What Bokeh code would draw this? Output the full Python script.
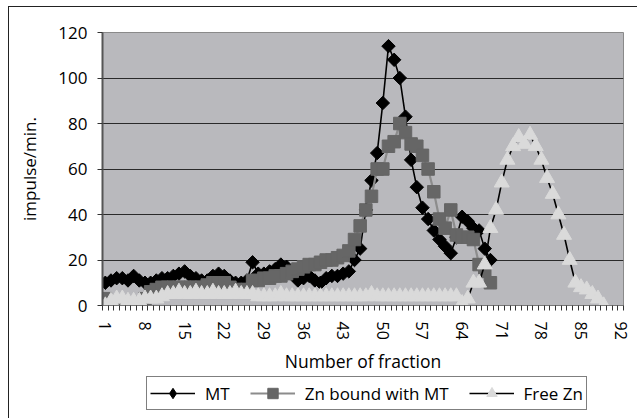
import numpy as np
from bokeh.plotting import figure
from bokeh.models import Range1d, FixedTicker, Legend, LegendItem, Spacer
from bokeh.layouts import column, row
from bokeh.embed import file_html
from bokeh.resources import INLINE

# ---- data -----------------------------------------------------------
fractions = list(range(1, 93))
x_tick_labels = [1, 8, 15, 22, 29, 36, 43, 50, 57, 64, 71, 78, 85, 92]
y_ticks = [0, 20, 40, 60, 80, 100, 120]

mt = [10, 11, 12, 12, 11, 13, 11, 10, 10, 11,
      12, 12, 13, 14, 15, 13, 12, 11, 11, 13,
      14, 13, 11, 10, 10, 11, 19, 14, 14, 15,
      16, 18, 17, 14, 11, 12, 13, 11, 10, 12,
      13, 13, 14, 15, 20, 25, 42, 55, 67, 89,
      114, 108, 100, 83, 64, 52, 43, 38, 33, 29,
      26, 23, 30, 39, 37, 34, 33, 25, 20]

zn_bound = [3, 1, 0, 0, 0, 0, 1, 3, 6, 7,
            8, 8, 8, 8, 8, 8, 8, 8, 9, 10,
            10, 10, 8, 7, 7, 7, 11, 11, 12, 12,
            13, 13, 14, 15, 16, 17, 18, 18, 19, 20,
            20, 21, 22, 24, 29, 35, 42, 48, 60, 60,
            70, 72, 80, 76, 71, 70, 66, 60, 50, 38,
            34, 42, 31, 30, 30, 29, 18, 15, 10]

free_zn = [0, 2, 3, 3, 2, 2, 2, 3, 3, 3,
           4, 5, 5, 6, 5, 5, 6, 5, 5, 6,
           5, 5, 5, 6, 5, 5, 5, 4, 4, 4,
           4, 5, 4, 4, 4, 4, 4, 4, 4, 4,
           4, 4, 4, 4, 4, 4, 4, 5, 4, 4,
           4, 4, 4, 4, 4, 4, 4, 4, 4, 4,
           4, 4, 4, 1, 3, 10, 10, 18, 34, 42,
           54, 64, 70, 74, 71, 75, 70, 64, 56, 49,
           40, 31, 20, 10, 8, 7, 5, 3, 0]

series = [("MT", mt), ("Zn bound with MT", zn_bound), ("Free Zn", free_zn)]

# ---- styles -----------------------------------------------------------
FONT = "Open Sans"
STYLES = {
    "MT": dict(line=dict(line_color="black", line_width=1.6),
               mark=dict(marker="square", angle=np.pi / 4, size=9.5,
                         fill_color="black", line_color="black")),
    "Zn bound with MT": dict(line=dict(line_color="#8c8c8c", line_width=2.2),
                             mark=dict(marker="square", size=12.5,
                                       fill_color="#666666",
                                       line_color="#666666")),
    "Free Zn": dict(line=dict(line_color="black", line_width=1.6),
                    mark=dict(marker="triangle", size=15,
                              fill_color="#dadada", line_color="#dadada")),
}
# the legend does not rotate markers, so its MT swatch uses a diamond
LEGEND_MARK = {"MT": dict(marker="diamond", size=12,
                          fill_color="black", line_color="black")}

# ---- main chart -------------------------------------------------------
p = figure(width=628, height=368,
           x_range=Range1d(0.5, 92.5), y_range=Range1d(0, 120),
           output_backend="svg", toolbar_location=None,
           min_border_left=93, min_border_right=14,
           min_border_top=25, min_border_bottom=66)

p.background_fill_color = "#b9b9bd"
p.border_fill_color = "white"
p.outline_line_color = "#8a8a8a"
p.outline_line_width = 1

p.xgrid.grid_line_color = None
p.ygrid.grid_line_color = "#2a2a2a"
p.ygrid.grid_line_width = 1

ya = p.yaxis[0]
ya.ticker = FixedTicker(ticks=y_ticks)
ya.axis_line_color = "#555555"
ya.axis_line_width = 2
ya.major_tick_out = 5
ya.major_tick_in = 0
ya.major_tick_line_color = "#333333"
ya.minor_tick_line_color = None
ya.major_label_text_font = FONT
ya.major_label_text_font_size = "17px"
ya.major_label_text_color = "black"
ya.major_label_standoff = 10
ya.axis_label = "impulse/min."
ya.axis_label_text_font = FONT
ya.axis_label_text_font_size = "17px"
ya.axis_label_text_font_style = "normal"
ya.axis_label_text_color = "black"
ya.axis_label_standoff = 14

xa = p.xaxis[0]
boundaries = [f - 0.5 for f in fractions] + [fractions[-1] + 0.5]
xa.ticker = FixedTicker(ticks=x_tick_labels, minor_ticks=boundaries)
xa.axis_line_color = "#777777"
xa.axis_line_width = 1
xa.major_tick_out = 0
xa.major_tick_in = 0
xa.minor_tick_out = 5
xa.minor_tick_in = 0
xa.minor_tick_line_color = "#333333"
xa.major_label_orientation = "vertical"
xa.major_label_text_font = FONT
xa.major_label_text_font_size = "16px"
xa.major_label_text_color = "black"
xa.major_label_standoff = 11
xa.axis_label = "Number of fraction"
xa.axis_label_text_font = FONT
xa.axis_label_text_font_size = "17.5px"
xa.axis_label_text_font_style = "normal"
xa.axis_label_text_color = "black"
xa.axis_label_standoff = 6

for name, vals in series:
    xs = fractions[:len(vals)]
    p.line(xs, vals, **STYLES[name]["line"])
    p.scatter(xs, vals, **STYLES[name]["mark"])

# ---- legend strip: same series, plotted out of view, only the legend shows
q = figure(width=628, height=43, x_axis_type=None, y_axis_type=None,
           x_range=Range1d(-20, -10), y_range=Range1d(-20, -10),
           output_backend="svg", toolbar_location=None,
           min_border=0, min_border_left=0, min_border_right=0,
           min_border_top=0, min_border_bottom=0)
q.outline_line_color = None
q.background_fill_color = "white"
q.border_fill_color = "white"
q.xgrid.grid_line_color = None
q.ygrid.grid_line_color = None
items = []
for name, vals in series:
    xs = fractions[:len(vals)]
    rl = q.line(xs, vals, **STYLES[name]["line"])
    rs = q.scatter(xs, vals, **LEGEND_MARK.get(name, STYLES[name]["mark"]))
    items.append(LegendItem(label=name, renderers=[rl, rs]))

legend = Legend(items=items, orientation="horizontal", location=(44, 8))
legend.label_text_font = FONT
legend.label_text_font_size = "17px"
legend.label_text_color = "black"
legend.glyph_width = 45
legend.glyph_height = 26
legend.label_standoff = 10
legend.spacing = 20
legend.padding = 3
legend.margin = 0
legend.border_line_color = "black"
legend.border_line_width = 1
legend.background_fill_color = "white"
legend.background_fill_alpha = 1
q.add_layout(legend, "center")

chart = column(p, q, spacing=0,
               styles={"border-left": "1px solid #222",
                       "border-top": "1px solid #222"})
page = column(Spacer(width=1, height=6),
              row(Spacer(width=8, height=1), chart, spacing=0),
              spacing=0)

open("out.html", "w").write(file_html(page, INLINE))
